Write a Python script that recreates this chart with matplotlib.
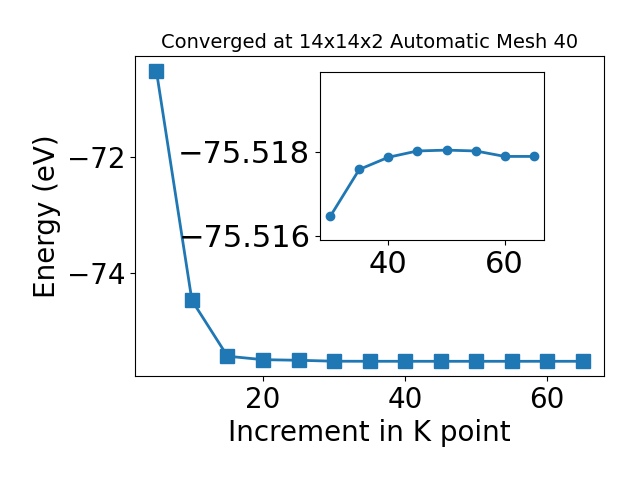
import matplotlib
matplotlib.use("Agg")
import matplotlib.pyplot as plt
from matplotlib.ticker import MultipleLocator

# k-point increments and total energies (eV)
kpoints = [5, 10, 15, 20, 25, 30, 35, 40, 45, 50, 55, 60, 65]
energy = [-70.52, -74.47, -75.43, -75.49, -75.50,
          -75.51646, -75.51758, -75.51787, -75.51802,
          -75.51804, -75.51802, -75.51789, -75.51789]

# zoomed part for the inset
k_zoom = kpoints[5:]
e_zoom = energy[5:]

fig, ax = plt.subplots(figsize=(6.4, 4.8))
fig.subplots_adjust(left=0.211, right=0.944, top=0.883, bottom=0.217)
ax.plot(kpoints, energy, marker='s', markersize=10, linewidth=2)
ax.set_title('Converged at 14x14x2 Automatic Mesh 40', fontsize=14)
ax.set_xlabel('Increment in K point', fontsize=20)
ax.set_ylabel('Energy (eV)', fontsize=20)
ax.yaxis.set_major_locator(MultipleLocator(2))
ax.tick_params(labelsize=20)

# inset
ins = fig.add_axes([0.5, 0.5, 0.35, 0.35])
ins.plot(k_zoom, e_zoom, marker='o', linewidth=2)
ins.set_ylim(-75.5159, -75.5199)
ins.set_yticks([-75.518, -75.516])
ins.ticklabel_format(axis='y', useOffset=False)
ins.tick_params(labelsize=22)

fig.savefig('out.png', dpi=100)
